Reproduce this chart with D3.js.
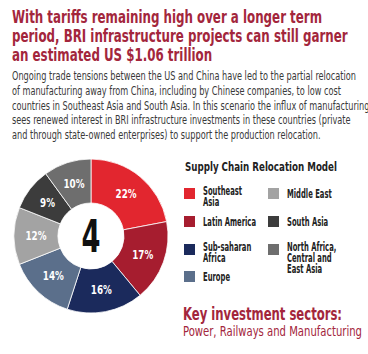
<!DOCTYPE html>
<html>
<head>
<meta charset="utf-8">
<script src="https://cdn.jsdelivr.net/npm/d3@7"></script>
<style>
  body { margin: 0; background: #fff; }
  svg { display: block; font-family: "DejaVu Sans", sans-serif; font-stretch: condensed; }
</style>
</head>
<body>
<div id="chart"></div>
<script>
const titleLines = [
  "With tariffs remaining high over a longer term",
  "period, BRI infrastructure projects can still garner",
  "an estimated US $1.06 trillion"
];
const bodyLines = [
  "Ongoing trade tensions between the US and China have led to the partial relocation",
  "of manufacturing away from China, including by Chinese companies, to low cost",
  "countries in Southeast Asia and South Asia. In this scenario the influx of manufacturing",
  "sees renewed interest in BRI infrastructure investments in these countries (private",
  "and through state-owned enterprises) to support the production relocation."
];
const regions = ["Southeast Asia", "Latin America", "Sub-saharan Africa", "Europe",
  "Middle East", "South Asia", "North Africa, Central and East Asia"];
const shares = [22, 17, 16, 14, 12, 9, 10];
const legendLabels = [
  ["Southeast", "Asia"], ["Latin America"], ["Sub-saharan", "Africa"], ["Europe"],
  ["Middle East"], ["South Asia"], ["North Africa,", "Central and", "East Asia"]
];
const scenario = "4";

const width = 368, height = 354;
const red = "#a3263c";

const svg = d3.select("#chart").append("svg")
  .attr("width", width)
  .attr("height", height);

// squeeze a group of texts horizontally so the reference line fits its width
function squeeze(sel, refWidth, refNode) {
  const k = refWidth / (refNode || sel.node()).getComputedTextLength();
  sel.each(function () {
    const len = this.getComputedTextLength();
    d3.select(this)
      .attr("textLength", len * k)
      .attr("lengthAdjust", "spacingAndGlyphs");
  });
}

// title
const title = svg.append("g").selectAll("text")
  .data(titleLines)
  .join("text")
  .attr("x", 12)
  .attr("y", (d, i) => 23 + i * 19)
  .attr("fill", red)
  .style("font-size", "17px")
  .style("font-weight", "bold")
  .text(d => d);
squeeze(title, 310);

// intro text
const body = svg.append("g").selectAll("text")
  .data(bodyLines)
  .join("text")
  .attr("x", 12)
  .attr("y", (d, i) => 80 + i * 14.8)
  .attr("fill", "#3a3a3a")
  .style("font-size", "12px")
  .text(d => d);
squeeze(body, 344);

// donut
const color = d3.scaleOrdinal()
  .domain(regions)
  .range(["#e2262f", "#a61d2f", "#1b2a5c", "#5b6f8b", "#a3a3a3", "#3c3c3c", "#6e6e6e"]);

const pie = d3.pie().sort(null).value(d => d.v);
const arcs = pie(regions.map((r, i) => ({ r, v: shares[i] })));
const arc = d3.arc().innerRadius(33).outerRadius(77);

const donut = svg.append("g").attr("transform", "translate(91,236)");

donut.selectAll("path")
  .data(arcs)
  .join("path")
  .attr("d", arc)
  .attr("fill", d => color(d.data.r))
  .attr("stroke", "#fff")
  .attr("stroke-width", 0.8);

const pct = donut.selectAll("text.pct")
  .data(arcs)
  .join("text")
  .attr("class", "pct")
  .attr("transform", d => `translate(${arc.centroid(d)})`)
  .attr("text-anchor", "middle")
  .attr("dy", "0.36em")
  .attr("fill", "#fff")
  .style("font-size", "12px")
  .style("font-weight", "bold")
  .text(d => d.data.v + "%");
squeeze(pct, 21);

const big = donut.append("text")
  .attr("text-anchor", "middle")
  .attr("dy", "0.36em")
  .attr("fill", "#111")
  .style("font-size", "44px")
  .style("font-weight", "bold")
  .text(scenario);
squeeze(big, 19);

// legend
const legTitle = svg.append("text")
  .attr("x", 185)
  .attr("y", 171)
  .attr("fill", "#222")
  .style("font-size", "13px")
  .style("font-weight", "bold")
  .text("Supply Chain Relocation Model");
squeeze(legTitle, 152);

const rowY = [188, 216, 244, 271, 188, 216, 244];
const legend = svg.append("g").selectAll("g")
  .data(regions)
  .join("g")
  .attr("transform", (d, i) => `translate(${i < 4 ? 184 : 268},${rowY[i]})`);

legend.append("rect")
  .attr("width", 11)
  .attr("height", 11)
  .attr("fill", d => color(d));

legend.each(function (d, i) {
  const lines = legendLabels[i];
  const y0 = lines.length === 1 ? 9.5 : 7;
  d3.select(this).selectAll("text")
    .data(lines)
    .join("text")
    .attr("x", i < 4 ? 19 : 19)
    .attr("y", (t, j) => y0 + j * 11)
    .attr("fill", "#222")
    .style("font-size", "11.5px")
    .style("font-weight", "bold")
    .text(t => t);
});
const legTexts = legend.selectAll("text");
squeeze(legTexts, 53, legend.filter((d, i) => i === 1).select("text").node());

// key sectors
const key = svg.append("text")
  .attr("x", 183)
  .attr("y", 320)
  .attr("fill", red)
  .style("font-size", "17px")
  .style("font-weight", "bold")
  .text("Key investment sectors:");
squeeze(key, 159);

const sectors = svg.append("text")
  .attr("x", 183)
  .attr("y", 336)
  .attr("fill", red)
  .style("font-size", "13.5px")
  .text("Power, Railways and Manufacturing");
squeeze(sectors, 179);
</script>
</body>
</html>
